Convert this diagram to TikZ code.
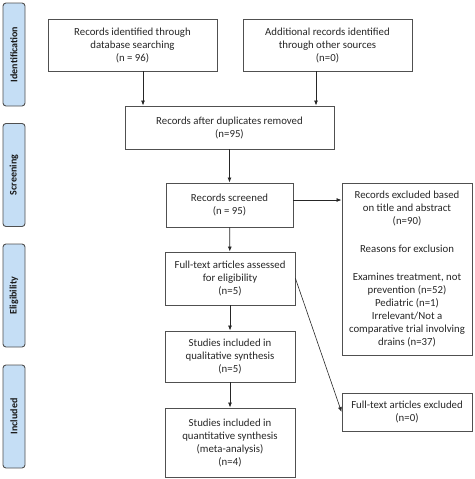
\documentclass[tikz,border=0pt]{standalone}
\usepackage{fontspec}
\setmainfont{Carlito}
\usetikzlibrary{arrows.meta}
\definecolor{bandblue}{RGB}{197,222,245}
\definecolor{edgegray}{RGB}{80,80,80}
\begin{document}
\begin{tikzpicture}[x=1pt,y=-1pt,
	box/.style={draw=edgegray,line width=0.9pt,align=center,inner sep=2pt,font=\fontsize{10.8}{13}\selectfont,text=black!85},
	band/.style={draw=edgegray,line width=0.9pt,fill=bandblue,rounded corners=3pt,minimum width=22pt,minimum height=103pt},
	bandtext/.style={rotate=90,font=\fontsize{10}{11}\selectfont\bfseries,text=black!90},
	arr/.style={-{Latex[length=5pt,width=4pt]},line width=0.8pt,draw=black!85}]
	\useasboundingbox (0,0) rectangle (474,479);
	% phase bands
	\node[band] (idb) at (14,54.5) {};
	\node[band] (scb) at (14,175) {};
	\node[band] (elb) at (14,295.5) {};
	\node[band] (inb) at (14,416.5) {};
	\node[bandtext] at (idb) {Identification};
	\node[bandtext] at (scb) {Screening};
	\node[bandtext] at (elb) {Eligibility};
	\node[bandtext] at (inb) {Included};
	% boxes
	\node[box,minimum width=169pt,minimum height=52pt] (db) at (132.5,45)
		{Records identified through\\database searching\\(n = 96)};
	\node[box,minimum width=169pt,minimum height=52pt] (other) at (327.5,45)
		{Additional records identified\\through other sources\\(n=0)};
	\node[box,minimum width=209pt,minimum height=43pt] (dup) at (229.5,127.5)
		{Records after duplicates removed\\(n=95)};
	\node[box,minimum width=127pt,minimum height=44pt] (scr) at (229.5,205)
		{Records screened\\(n = 95)};
	\node[box,minimum width=130pt,minimum height=53pt] (full) at (230,278.5)
		{Full-text articles assessed\\for eligibility\\(n=5)};
	\node[box,minimum width=130pt,minimum height=51pt] (qual) at (230,356.5)
		{Studies included in\\qualitative synthesis\\(n=5)};
	\node[box,minimum width=130pt,minimum height=69pt] (quan) at (230,442.5)
		{Studies included in\\quantitative synthesis\\(meta-analysis)\\(n=4)};
	\node[box,minimum width=130pt,minimum height=172pt] (excl) at (407,269)
		{Records excluded based\\on title and abstract\\(n=90)\\[15pt]Reasons for exclusion\\[15pt]Examines treatment, not\\prevention (n=52)\\Pediatric (n=1)\\Irrelevant/Not a\\comparative trial involving\\drains (n=37)};
	\node[box,minimum width=130pt,minimum height=38pt] (fexcl) at (407,412)
		{Full-text articles excluded\\(n=0)};
	% connectors
	\draw[arr] ([xshift=10.5]db.south) -- ([xshift=10.5]db.south |- dup.north);
	\draw[arr] ([xshift=-11.5]other.south) -- ([xshift=-11.5]other.south |- dup.north);
	\draw[arr] (dup) -- (scr);
	\draw[arr] ([yshift=5]scr.east) -- ([yshift=5]scr.east -| excl.west);
	\draw[arr] (scr) -- (full);
	\draw[arr] (full) -- (qual);
	\draw[arr] (qual) -- (quan);
	\draw[arr,line width=0.6pt] (full.east) -- (fexcl.west);
\end{tikzpicture}
\end{document}
